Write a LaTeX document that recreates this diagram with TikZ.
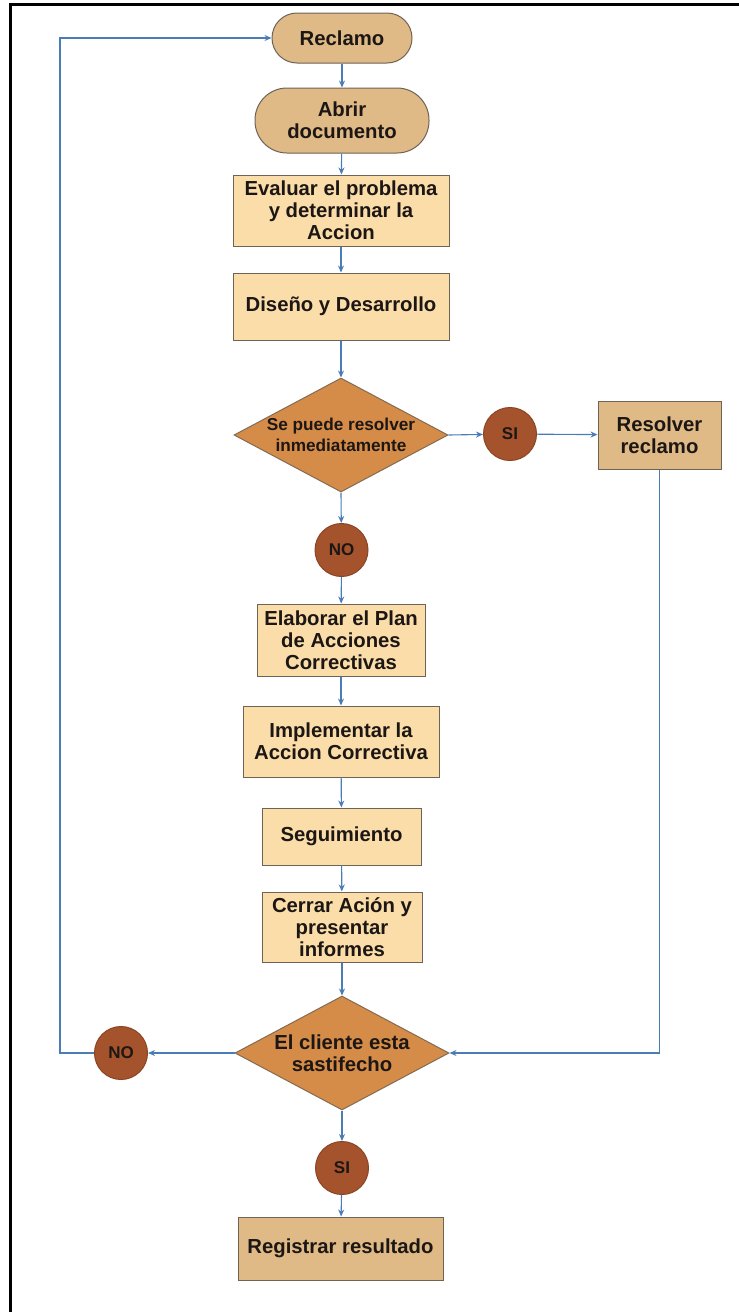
\documentclass[tikz,border=0pt]{standalone}
\usepackage{fontspec}
\setmainfont{Liberation Sans}
\usetikzlibrary{shapes.geometric,arrows.meta}

\definecolor{tanfill}{HTML}{DFB986}
\definecolor{peach}{HTML}{FBDDA9}
\definecolor{ochre}{HTML}{D48C48}
\definecolor{rust}{HTML}{A5532C}
\definecolor{rustedge}{HTML}{8A4524}
\definecolor{edge}{HTML}{6F6355}
\definecolor{flowblue}{HTML}{4A7DB5}
\definecolor{ink}{HTML}{1C1714}

\tikzset{
  base/.style={draw=edge, line width=1pt, inner sep=0pt, align=center, text=ink,
    font=\bfseries\fontsize{20.3}{21.8}\selectfont},
  stadium/.style={base, fill=tanfill, rounded corners=25pt},
  stepbox/.style={base, fill=peach},
  endbox/.style={base, fill=tanfill},
  decision/.style={base, diamond, fill=ochre, draw=edge!80!ochre,
    minimum width=214pt, minimum height=114pt},
  dtext/.style={align=center, text=ink, inner sep=0pt,
    font=\bfseries\fontsize{20.3}{21.8}\selectfont},
  answer/.style={base, circle, fill=rust, draw=rustedge, minimum size=53pt,
    font=\bfseries\fontsize{17}{19}\selectfont},
  flow/.style={draw=flowblue, line width=1.1pt, -{Stealth[length=7pt,width=6pt]}}
}

\begin{document}
\begin{tikzpicture}[x=1pt,y=-1pt]
\useasboundingbox (0,0) rectangle (739,1312);

% frame along the top and left edges
\draw[line width=2.4pt] (10.5,1312) -- (10.5,4.5) -- (739,4.5);

% main column
\node[stadium, minimum width=140pt, minimum height=50pt] (rec) at (342,38) {Reclamo};
\node[stadium, rounded corners=32pt, minimum width=174pt, minimum height=65pt] (abr) at (342,120.5) {Abrir\\documento};
\node[stepbox, minimum width=216pt, minimum height=71pt] (eva) at (341,210.5) {Evaluar el problema\\y determinar la\\Accion};
\node[stepbox, minimum width=216pt, minimum height=67pt] (dis) at (341,306.5) {Dise\~no y Desarrollo};
\node[decision, label={[dtext, font=\bfseries\fontsize{17.2}{21}\selectfont]center:Se puede resolver\\inmediatamente}] (d1) at (341,435) {};
\node[answer] (si1) at (510,434) {SI};
\node[endbox, minimum width=123pt, minimum height=68pt] (res) at (659.5,435) {Resolver\\reclamo};
\node[answer] (no1) at (341.5,550) {NO};
\node[stepbox, minimum width=168pt, minimum height=72pt] (ela) at (341,640) {Elaborar el Plan\\de Acciones\\Correctivas};
\node[stepbox, minimum width=196pt, minimum height=71pt] (imp) at (341,741.5) {Implementar la\\Accion Correctiva};
\node[stepbox, minimum width=159pt, minimum height=57pt] (seg) at (341.5,836.5) {Seguimiento};
\node[stepbox, minimum width=160pt, minimum height=70pt] (cer) at (342,927) {Cerrar Aci\'on y\\presentar\\informes};
\node[decision, label={[dtext]center:El cliente esta\\sastifecho}] (d2) at (342,1053) {};
\node[answer] (no2) at (121,1053) {NO};
\node[answer] (si2) at (342,1168) {SI};
\node[endbox, minimum width=205pt, minimum height=63pt] (reg) at (340.5,1248.5) {Registrar resultado};

% connectors
\draw[flow] (rec) -- (abr);
\draw[flow] (abr) -- (eva);
\draw[flow] (eva) -- (dis);
\draw[flow] (dis) -- (d1.north);
\draw[flow] (d1.east) -- (si1);
\draw[flow] (si1) -- (res);
\draw[flow] (d1.south) -- (no1);
\draw[flow] (no1) -- (ela);
\draw[flow] (ela) -- (imp);
\draw[flow] (imp) -- (seg);
\draw[flow] (seg) -- (cer);
\draw[flow] (cer) -- (d2.north);
\draw[flow] (d2.south) -- (si2);
\draw[flow] (si2) -- (reg);
\draw[flow] (res.south) |- (d2.east);
\draw[flow] (d2.west) -- (no2.east);

% return loop back to the start
\coordinate (loopTop) at (60,38);
\draw[flow] (no2.west) -| (loopTop) -- (rec.west);
\end{tikzpicture}
\end{document}
